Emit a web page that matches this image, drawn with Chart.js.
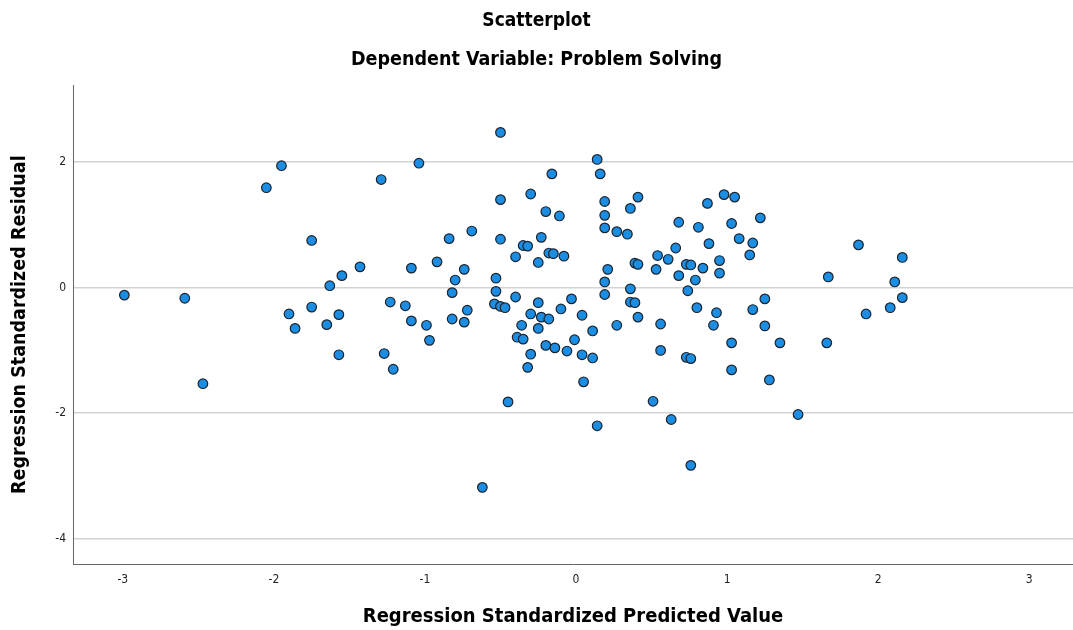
<!DOCTYPE html>
<html>
<head>
<meta charset="utf-8">
<script src="https://cdn.jsdelivr.net/npm/chart.js@4.4.1/dist/chart.umd.min.js"></script>
<style>
  html, body { margin: 0; padding: 0; background: #ffffff; }
  #wrap { width: 1073px; height: 630px; }
</style>
</head>
<body>
<div id="wrap"><canvas id="c" width="1073" height="630"></canvas></div>
<script>
// ---- Data ----
const predicted = [
  -2.99, -2.59, -2.47, -2.05, -1.95, -1.75, -1.63, -1.90, -1.75, -1.86,
  -1.65, -1.57, -1.55, -1.57, -1.43, -1.29, -1.04, -1.09, -0.92, -1.23,
  -1.13, -1.09, -0.99, -0.97, -1.27, -1.21, -0.84, -0.69, -0.74, -0.80,
  -0.82, -0.72, -0.82, -0.74, -0.50, -0.50, -0.50, -0.53, -0.53, -0.54,
  -0.50, -0.47, -0.16, -0.30, -0.20, -0.11, -0.23, -0.35, -0.32, -0.40,
  -0.25, -0.18, -0.15, -0.08, -0.40, -0.25, -0.30, -0.23, -0.18, -0.10,
  -0.03, -0.36, -0.25, 0.04, -0.39, -0.35, -0.20, -0.14, -0.06, -0.01,
  0.04, -0.30, -0.32, -0.45, -0.62, 0.05, 0.14, 0.16, 0.19, 0.19,
  0.19, 0.27, 0.34, 0.36, 0.41, 0.21, 0.19, 0.19, 0.11, 0.27,
  0.39, 0.41, 0.36, 0.36, 0.39, 0.41, 0.54, 0.53, 0.61, 0.66,
  0.68, 0.68, 0.73, 0.76, 0.74, 0.79, 0.84, 0.81, 0.87, 0.88,
  0.98, 1.05, 1.03, 1.08, 1.17, 1.15, 1.22, 0.95, 0.95, 0.80,
  0.93, 0.91, 1.17, 1.25, 1.25, 0.56, 0.11, 0.56, 0.73, 0.76,
  1.03, 1.35, 1.03, 1.28, 0.51, 0.14, 0.63, 1.47, 0.76, 1.87,
  2.16, 1.67, 2.11, 2.16, 2.08, 1.92, 1.66
];
const residual = [
  -0.12, -0.17, -1.53, 1.59, 1.94, 0.75, 0.03, -0.42, -0.31, -0.65,
  -0.59, -0.43, 0.19, -1.07, 0.33, 1.72, 1.98, 0.31, 0.41, -0.23,
  -0.29, -0.53, -0.60, -0.84, -1.05, -1.30, 0.78, 0.90, 0.29, 0.12,
  -0.08, -0.36, -0.50, -0.55, 2.47, 1.40, 0.77, 0.15, -0.06, -0.26,
  -0.30, -0.32, 1.81, 1.49, 1.21, 1.14, 0.80, 0.67, 0.66, 0.49,
  0.40, 0.55, 0.54, 0.50, -0.15, -0.24, -0.42, -0.47, -0.50, -0.34,
  -0.18, -0.60, -0.65, -0.44, -0.79, -0.82, -0.92, -0.96, -1.01, -0.83,
  -1.07, -1.06, -1.27, -1.82, -3.18, -1.50, 2.04, 1.81, 1.37, 1.15,
  0.95, 0.89, 0.85, 1.26, 1.44, 0.29, 0.09, -0.11, -0.69, -0.60,
  0.39, 0.37, -0.02, -0.23, -0.24, -0.47, 0.51, 0.29, 0.45, 0.63,
  1.04, 0.19, 0.37, 0.36, -0.05, 0.12, 0.31, 0.96, 1.34, 0.70,
  1.48, 1.44, 1.02, 0.78, 0.71, 0.52, 1.11, 0.43, 0.23, -0.32,
  -0.40, -0.60, -0.35, -0.18, -0.61, -0.58, -1.12, -1.00, -1.11, -1.13,
  -0.88, -0.88, -1.31, -1.47, -1.81, -2.20, -2.10, -2.02, -2.83, 0.68,
  0.48, 0.17, 0.09, -0.16, -0.32, -0.42, -0.88
];
const xTickValues = [-3, -2, -1, 0, 1, 2, 3];
const yTickValues = [-4, -2, 0, 2];
const chartTitle = 'Scatterplot';
const chartSubtitle = 'Dependent Variable: Problem Solving';
const xAxisTitle = 'Regression Standardized Predicted Value';
const yAxisTitle = 'Regression Standardized Residual';

// ---- Build ----
const points = predicted.map((x, i) => ({ x: x, y: residual[i] }));
const FAMILY = "'Liberation Sans Narrow', 'DejaVu Sans Condensed', 'Liberation Sans', sans-serif";

new Chart(document.getElementById('c'), {
  type: 'scatter',
  data: {
    datasets: [{
      data: points,
      pointRadius: 4.8,
      pointHoverRadius: 4.8,
      pointBackgroundColor: '#1b8ee3',
      pointBorderColor: '#1a232e',
      pointBorderWidth: 1.2
    }]
  },
  options: {
    responsive: false,
    animation: false,
    devicePixelRatio: 1,
    layout: { padding: 0, autoPadding: false },
    plugins: {
      legend: { display: false },
      tooltip: { enabled: false },
      title: {
        display: true,
        text: chartTitle,
        color: '#000',
        font: { family: FAMILY, size: 19, weight: 'bold' },
        padding: { top: 9.6, bottom: 6 }
      },
      subtitle: {
        display: true,
        text: chartSubtitle,
        color: '#000',
        font: { family: FAMILY, size: 19.5, weight: 'bold' },
        padding: { top: 9.9, bottom: 13.6 }
      }
    },
    scales: {
      x: {
        type: 'linear',
        min: -3.33,
        max: 3.29,
        afterFit: (s) => { s.height = 66; s.paddingLeft = 0; s.paddingRight = 0; },
        afterBuildTicks: (s) => { s.ticks = xTickValues.map(v => ({ value: v })); },
        ticks: {
          includeBounds: false,
          stepSize: 1,
          padding: 9,
          color: '#222',
          font: { family: FAMILY, size: 12 }
        },
        grid: { display: false, drawTicks: false },
        border: { display: true, color: '#666', width: 1 },
        title: {
          display: true,
          text: xAxisTitle,
          color: '#000',
          font: { family: FAMILY, size: 20, weight: 'bold' },
          padding: { top: 0, bottom: 1 }
        }
      },
      y: {
        type: 'linear',
        min: -4.40,
        max: 3.22,
        afterFit: (s) => { s.width = 73; },
        afterBuildTicks: (s) => { s.ticks = yTickValues.map(v => ({ value: v })); },
        ticks: {
          includeBounds: false,
          stepSize: 2,
          padding: 7,
          color: '#222',
          font: { family: FAMILY, size: 12 }
        },
        grid: { display: true, drawTicks: false, color: '#d3d3d3', lineWidth: 1.5 },
        border: { display: true, color: '#666', width: 1 },
        title: {
          display: true,
          text: yAxisTitle,
          color: '#000',
          font: { family: FAMILY, size: 19.5, weight: 'bold' },
          padding: { top: 8.3, bottom: 0 }
        }
      }
    }
  }
});
</script>
</body>
</html>
